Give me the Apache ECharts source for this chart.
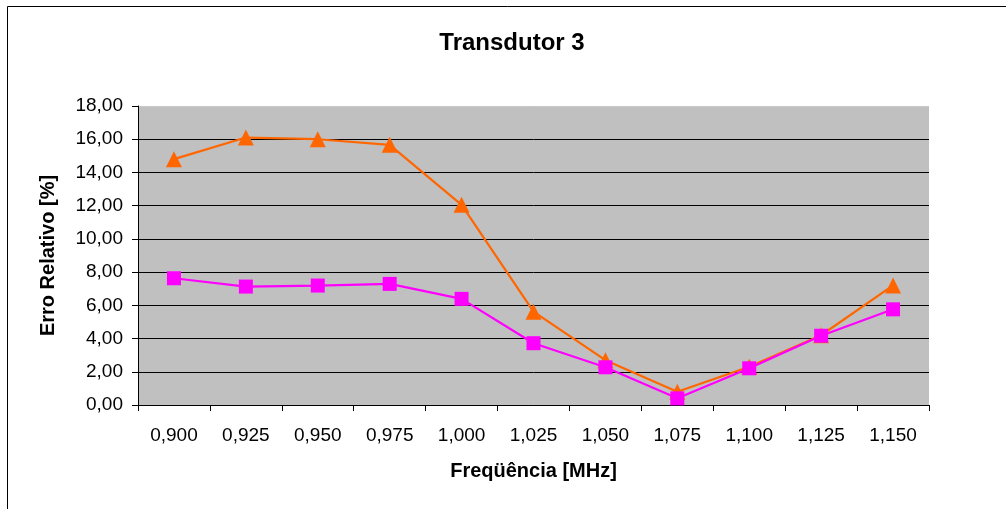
<!DOCTYPE html>
<html><head><meta charset="utf-8">
<script src="https://cdn.jsdelivr.net/npm/echarts@6/dist/echarts.min.js"></script>
<style>html,body{margin:0;padding:0;background:#fff}#c{width:1006px;height:509px}</style>
</head><body><div id="c"></div>
<script>
const categories = ['0,900','0,925','0,950','0,975','1,000','1,025','1,050','1,075','1,100','1,125','1,150'];
const seriesOrange = [14.80, 16.10, 16.00, 15.66, 12.05, 5.62, 2.70, 0.80, 2.30, 4.20, 7.20];
const seriesMagenta = [7.63, 7.13, 7.19, 7.29, 6.39, 3.72, 2.27, 0.40, 2.21, 4.17, 5.76];
const yTicks = [0, 2, 4, 6, 8, 10, 12, 14, 16, 18];

const chart = echarts.init(document.getElementById('c'));
const F = 'Liberation Sans, Arial, sans-serif';
chart.setOption({
  animation: false,
  graphic: [{type:'rect', shape:{x:7.5,y:6.5,width:1010,height:510}, style:{fill:'none', stroke:'#000', lineWidth:1}, z:-1}],
  title: {text:'Transdutor 3', left:507, top:26, textAlign:'center',
    textStyle:{fontFamily:F, fontSize:24, fontWeight:'bold', color:'#000'}},
  grid: {left:138, right:77, top:106, bottom:104, backgroundColor:'#c0c0c0', show:true, borderWidth:0},
  xAxis: {type:'category', data:categories, boundaryGap:true,
    name:'Freqüência [MHz]', nameLocation:'middle', nameGap:56,
    nameTextStyle:{fontFamily:F, fontSize:20, fontWeight:'bold', color:'#000'},
    axisLine:{lineStyle:{color:'#000', width:1}},
    axisTick:{show:true, length:6, alignWithLabel:false, lineStyle:{color:'#000'}},
    axisLabel:{fontFamily:F, fontSize:19, color:'#000', margin:21}},
  yAxis: {type:'value', min:0, max:18, interval:2,
    name:'Erro Relativo [%]', nameLocation:'middle', nameGap:80,
    nameTextStyle:{fontFamily:F, fontSize:20, fontWeight:'bold', color:'#000'},
    axisLine:{show:true, lineStyle:{color:'#000', width:1}},
    axisTick:{show:true, length:6, lineStyle:{color:'#000'}},
    axisLabel:{fontFamily:F, fontSize:19, color:'#000', margin:15,
      formatter: v => yTicks.includes(v) ? v.toFixed(2).replace('.', ',') : ''},
    splitLine:{show:true, lineStyle:{color:['#000','#000','#000','#000','#000','#000','#000','#000','#000','#c8c8c8'], width:1}}},
  series: [
    {type:'line', data:seriesOrange, symbol:'triangle', symbolSize:16,
      lineStyle:{color:'#ff6600', width:2.2}, itemStyle:{color:'#ff6600'}, z:2},
    {type:'line', data:seriesMagenta, symbol:'rect', symbolSize:14,
      lineStyle:{color:'#ff00ff', width:2.2}, itemStyle:{color:'#ff00ff'}, z:3}
  ]
});
</script></body></html>
